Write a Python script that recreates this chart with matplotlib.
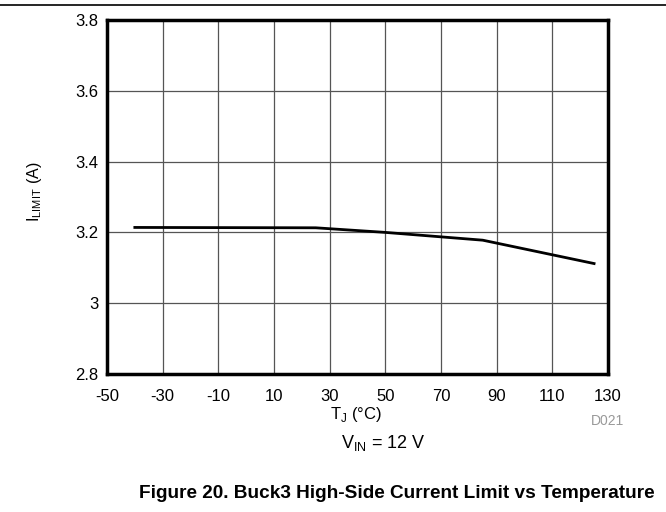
import matplotlib
matplotlib.use("Agg")
import matplotlib.pyplot as plt
from matplotlib.lines import Line2D

temps = [-40, 25, 50, 85, 125]
ilimit = [3.214, 3.213, 3.200, 3.178, 3.112]
xticks = [-50, -30, -10, 10, 30, 50, 70, 90, 110, 130]
xticklabels = ["-50", "-30", "-10", "10", "30", "50", "70", "90", "110", "130"]
yticks = [2.8, 3.0, 3.2, 3.4, 3.6, 3.8]
yticklabels = ["2.8", "3", "3.2", "3.4", "3.6", "3.8"]

plt.rcParams['font.family'] = ['Liberation Sans', 'DejaVu Sans']

fig = plt.figure(figsize=(6.66, 5.12), dpi=100)
ax = fig.add_axes([107/666, 1 - 374/512, (608-107)/666, (374-20)/512])

ax.plot(temps, ilimit, color='black', lw=2.0)
ax.set_xlim(-50, 130)
ax.set_ylim(2.8, 3.8)
ax.set_xticks(xticks)
ax.set_xticklabels(xticklabels)
ax.set_yticks(yticks)
ax.set_yticklabels(yticklabels)
ax.grid(True, color='#555555', lw=0.9)
ax.set_axisbelow(True)
ax.tick_params(length=0, labelsize=12)
ax.tick_params(axis='x', pad=11)
ax.tick_params(axis='y', pad=6)
for s in ax.spines.values():
    s.set_linewidth(2.5)
    s.set_color('black')

fig.text(34/666, 1 - 192/512, r'I$_{\mathregular{LIMIT}}$ (A)', fontsize=11.5, rotation=90,
         ha='center', va='center')
fig.text(356/666, 1 - 414/512, r'T$_{\mathregular{J}}$ (°C)', fontsize=12, ha='center', va='center')
fig.text(607/666, 1 - 421/512, 'D021', fontsize=10, color='#999999', ha='center', va='center')
fig.text(383/666, 1 - 443/512, r'V$_{\mathregular{IN}}$ = 12 V', fontsize=13, ha='center', va='center')
fig.text(397/666, 1 - 493/512, 'Figure 20. Buck3 High-Side Current Limit vs Temperature',
         fontsize=13.7, fontweight='bold', ha='center', va='center')

fig.add_artist(Line2D([0, 1], [1 - 5/512, 1 - 5/512], color='black', lw=1.2, transform=fig.transFigure))

fig.savefig('out.png', dpi=100)
